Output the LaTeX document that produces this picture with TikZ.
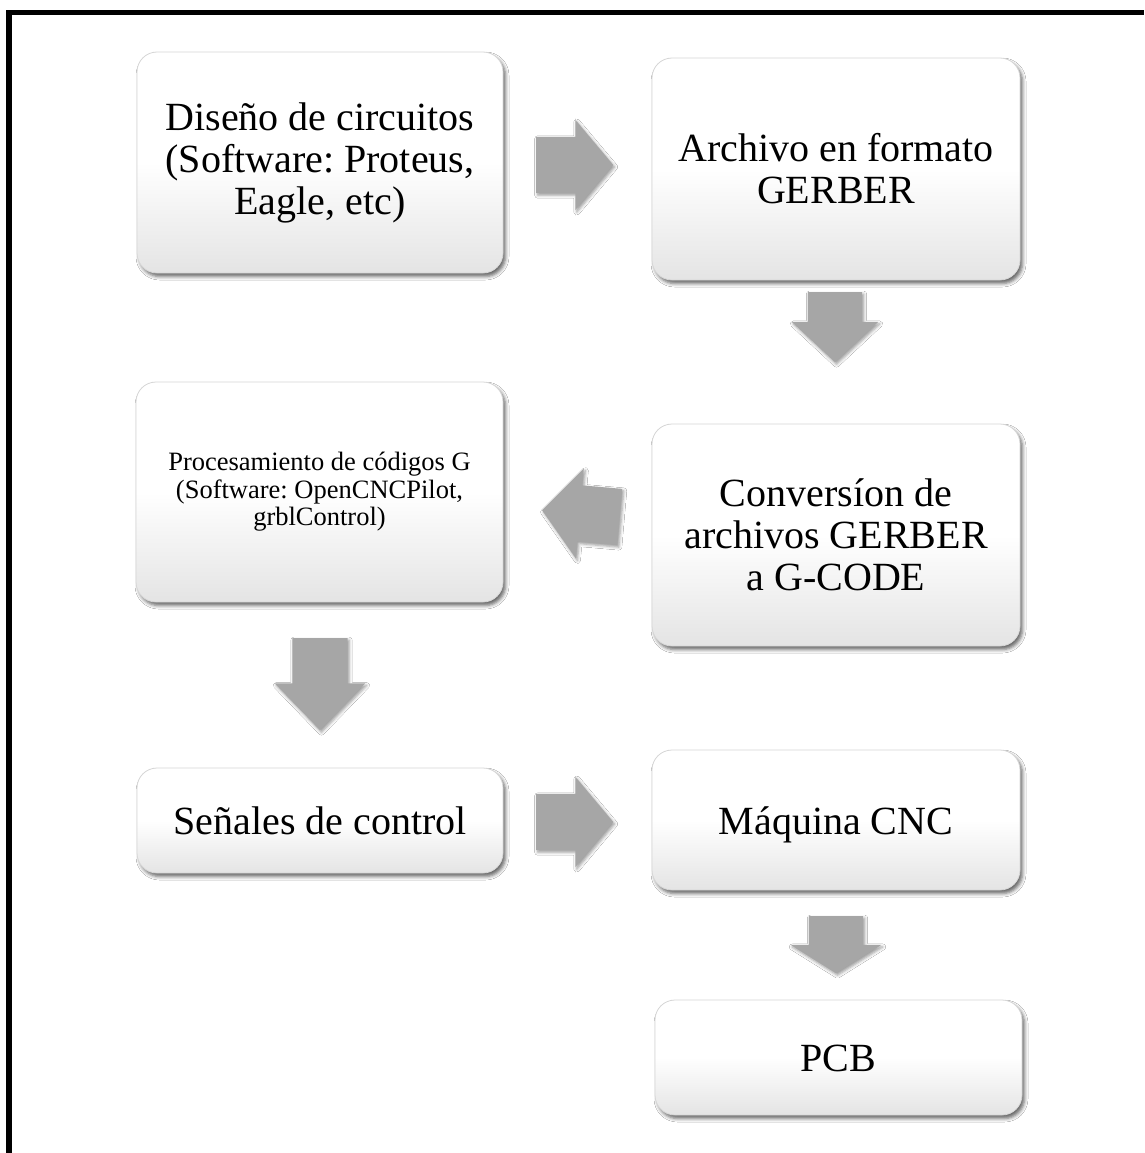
\documentclass[tikz,border=0pt]{standalone}
\usepackage{fontspec}
\setmainfont{Liberation Serif}
\usetikzlibrary{shapes.arrows,shadows.blur}
\definecolor{arrowgray}{RGB}{166,166,166}
\definecolor{boxbottom}{RGB}{228,228,228}
\definecolor{boxedge}{RGB}{214,214,214}
\frenchspacing
\begin{document}
\begin{tikzpicture}[x=1pt,y=1pt,
  stepbox/.style={draw=boxedge, line width=0.8pt, rounded corners=20pt,
    top color=white, bottom color=boxbottom, middle color=white,
    blur shadow={shadow xshift=2.5pt, shadow yshift=-3.5pt,
      shadow blur radius=3.5pt, shadow opacity=60},
    inner sep=0pt, align=center, font=\fontsize{40}{42}\selectfont},
  oneline/.style={text height=28pt, text depth=0pt},
  blockarrow/.style={single arrow, fill=arrowgray, draw=none, inner sep=0pt,
    text height=56pt, text depth=0pt, single arrow head extend=17pt,
    blur shadow={shadow xshift=1.5pt, shadow yshift=-2pt,
      shadow blur radius=3pt, shadow opacity=40}}
]
\useasboundingbox (0,0) rectangle (1144,-1153);
\fill[white] (0,0) rectangle (1144,-1153);

% outer frame (only the left and top sides fall inside the page)
\draw[line width=5.5pt] (9,-1153) -- (9,-12.5) -- (1144,-12.5);

% process boxes
\node[stepbox, minimum width=366pt, minimum height=221pt] (dis) at (320,-162.5)
  {Diseño de circuitos\\(Software: Proteus,\\Eagle, etc)};
\node[stepbox, minimum width=368pt, minimum height=222pt] (ger) at (836,-169)
  {Archivo en formato\\GERBER};
\node[stepbox, minimum width=368pt, minimum height=222pt] (conv) at (836,-535)
  {Conversíon de\\archivos GERBER\\a G-CODE};
\node[stepbox, minimum width=367pt, minimum height=220pt,
  font=\fontsize{26.5}{27.5}\selectfont] (proc) at (319.5,-492)
  {Procesamiento de códigos G\\(Software: OpenCNCPilot,\\grblControl)};
\node[stepbox, oneline, minimum width=366pt, minimum height=105pt] (sen) at (320,-820.5)
  {Señales de control};
\node[stepbox, oneline, minimum width=368pt, minimum height=140pt] (cnc) at (836,-820)
  {Máquina CNC};
\node[stepbox, oneline, minimum width=367pt, minimum height=115pt] (pcb) at (838.5,-1057.5)
  {PCB};

% block arrows between the steps
\node[blockarrow, anchor=tail, minimum height=77pt, single arrow tip angle=100]
  (a1) at (536,-165) {};
\node[blockarrow, anchor=tail, rotate=-90, text height=54pt,
  single arrow head extend=16pt, minimum height=70pt, single arrow tip angle=94]
  (a2) at (835,-292) {};
\node[blockarrow, anchor=tail, rotate=175, minimum height=78pt,
  single arrow tip angle=100] (a3) at (620,-517) {};
\node[blockarrow, anchor=tail, rotate=-90, text height=55pt,
  single arrow head extend=17.5pt, minimum height=92pt, single arrow tip angle=88]
  (a4) at (320,-638) {};
\node[blockarrow, anchor=tail, minimum height=77pt, single arrow tip angle=100]
  (a5) at (536,-822) {};
\node[blockarrow, anchor=tail, rotate=-90, text height=54pt,
  single arrow head extend=18pt, minimum height=57pt, single arrow tip angle=116]
  (a6) at (836,-916) {};
\end{tikzpicture}
\end{document}
